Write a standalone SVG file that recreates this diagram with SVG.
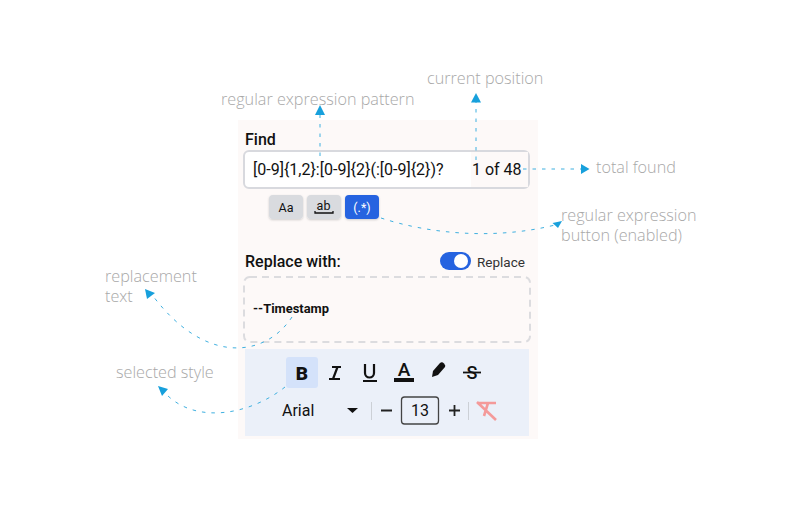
<svg xmlns="http://www.w3.org/2000/svg" width="800" height="512" viewBox="0 0 800 512">
<defs><filter id="sh" x="-20%" y="-20%" width="140%" height="150%"><feDropShadow dx="0" dy="1" stdDeviation="1.200" flood-color="#000" flood-opacity=".18"/></filter></defs>
<style>
.ann{font-family:"Open Sans",sans-serif;font-size:16.200px;fill:#a8a8a8;font-weight:300}
.ui{font-family:Roboto,sans-serif;fill:#111}
.c{fill:none;stroke:#3fb0e0;stroke-width:1;stroke-dasharray:3.500 6}
.h{fill:#17a0dc}
.ic{fill:none;stroke:#111;stroke-width:2.200}
</style>
<rect width="800" height="512" fill="#fff"/>
<g id="panel">
<rect x="238" y="120" width="300" height="319" fill="#fdf9f8"/>
<text class="ui" x="245" y="144.500" font-size="16" font-weight="500">Find</text>
</g>
<g id="find-input">
<rect x="244" y="151" width="285" height="37" rx="5" fill="#fff" stroke="#d8d9de" stroke-width="2"/>
<rect x="471" y="152" width="57" height="35" fill="#fdf9f8"/>
<text class="ui" x="253" y="174.500" font-size="16">[0-9]{1,2}:[0-9]{2}(:[0-9]{2})?</text>
<text class="ui" x="472" y="174.500" font-size="16">1 of 48</text>
</g>
<g id="btn-case">
<rect x="269" y="195" width="34" height="24" rx="4" fill="#d9dbdf" filter="url(#sh)"/>
<text class="ui" x="286" y="212" font-size="12.500" text-anchor="middle">Aa</text>
</g>
<g id="btn-word">
<rect x="307" y="195" width="34" height="24" rx="4" fill="#d9dbdf" filter="url(#sh)"/>
<text class="ui" x="323.500" y="210" font-size="12.500" text-anchor="middle">ab</text>
<path d="M315 211v2h18v-2" fill="none" stroke="#111" stroke-width="1.300"/>
</g>
<g id="btn-regex">
<rect x="345" y="195" width="34" height="24" rx="4" fill="#2563e0" filter="url(#sh)"/>
<text class="ui" x="362" y="212" font-size="12.500" text-anchor="middle" style="fill:#fff">(.*)</text>
</g>
<g id="replace-header">
<text class="ui" x="245" y="266.500" font-size="16" font-weight="500">Replace with:</text>
<rect x="440" y="252" width="31" height="18" rx="9" fill="#2563e0"/>
<circle cx="461" cy="261" r="7" fill="#fff"/>
<text class="ui" x="477" y="267" font-size="13.500" style="fill:#333">Replace</text>
</g>
<g id="replace-box">
<rect x="244" y="277" width="286" height="65" rx="6" fill="none" stroke="#dcdcdf" stroke-width="2" stroke-dasharray="7 5"/>
<text class="ui" x="253" y="313" font-size="12.900" font-weight="700">--Timestamp</text>
</g>
<g id="toolbar">
<rect x="245" y="349" width="284" height="87" fill="#ebf0f9"/>
<rect x="286" y="357" width="32" height="31" rx="3" fill="#d4e2fa"/>
<text class="ui" x="302" y="379.500" font-size="19" font-weight="900" text-anchor="middle">B</text>
<path class="ic" d="M329 379h11M333 379l4.500-12M332 367h9" stroke-width="2.600"/>
<path class="ic" d="M365 364v9a4.500 4.500 0 0 0 9 0v-9M363 381h14"/>
<text class="ui" x="404" y="375.500" font-size="19" font-weight="500" text-anchor="middle">A</text>
<rect x="394" y="378" width="20" height="4" fill="#111"/>
<path d="M433 371l7-8q2-1.500 4 .5t1 3.500l-7 8-6 2z" fill="#111"/>
<text class="ui" x="472" y="378.500" font-size="18" font-weight="500" text-anchor="middle">S</text>
<path d="M463 372.500h18" fill="none" stroke="#111" stroke-width="1.800"/>
<text class="ui" x="282" y="415.500" font-size="16">Arial</text>
<path d="M347 408h11l-5.500 5z" fill="#111"/>
<path d="M371.500 402v18M468.500 402v18" stroke="#ccd0d6" stroke-width="1"/>
<path d="M381 410.500h11M449 410.500h11M454.500 405v11" stroke="#222" stroke-width="1.800" fill="none"/>
<rect x="401.500" y="397" width="37" height="27" rx="3" fill="none" stroke="#444" stroke-width="1.300"/>
<text class="ui" x="420" y="416" font-size="16" text-anchor="middle">13</text>
<path d="M477 403h19M488 403l-4 13M477 402l19 18" fill="none" stroke="#f49a9a" stroke-width="2.600"/>
</g>
<g id="connectors">
<path class="c" d="M320 156V113"/>
<path class="h" d="M320 105l-5 10h10z"/>
<path class="c" d="M476 160V102"/>
<path class="h" d="M476 93l-5 9.500h10z"/>
<path class="c" d="M523 169H581"/>
<path class="h" d="M589.500 169l-8.500-5v10z"/>
<path class="c" d="M381 218C430 234 495 240 555 225"/>
<path class="h" d="M562 221l-9.500 2 5.500 5z"/>
<path class="c" d="M292 317C265 358 205 365 153 296"/>
<path class="h" d="M145 289l2 10 8-6z"/>
<path class="c" d="M285 387C250 415 195 425 165 393"/>
<path class="h" d="M158 386l4 10 6-7z"/>
</g>
<g id="labels">
<text class="ann" x="221" y="105">regular expression pattern</text>
<text class="ann" x="427" y="84">current position</text>
<text class="ann" x="596" y="173">total found</text>
<text class="ann" x="561" y="220.500">regular expression</text>
<text class="ann" x="561" y="240.500">button (enabled)</text>
<text class="ann" x="105" y="282">replacement</text>
<text class="ann" x="105" y="302">text</text>
<text class="ann" x="116" y="378">selected style</text>
</g>
</svg>
